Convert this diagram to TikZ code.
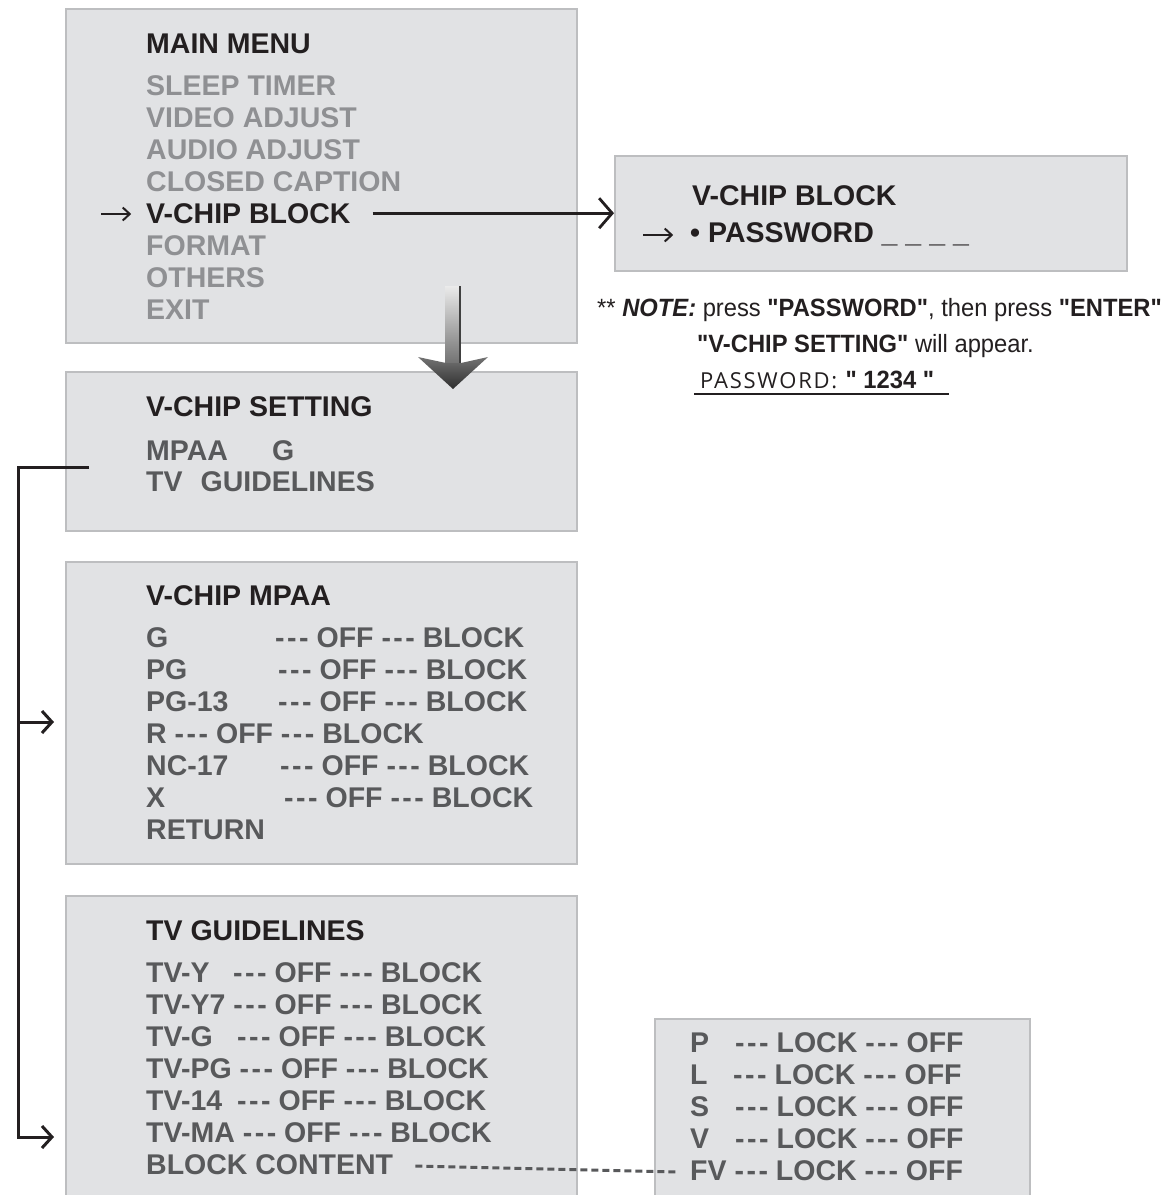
\documentclass[tikz,border=0pt]{standalone}
\usepackage{fontspec}
\setmainfont{Liberation Sans}
\newfontfamily\notefont[FakeStretch=0.95]{Liberation Sans}
\newfontfamily\pwfont[LetterSpace=8]{Open Sans}
\usetikzlibrary{arrows.meta}
\definecolor{boxfill}{HTML}{E1E2E4}
\definecolor{boxedge}{HTML}{BDBEC0}
\definecolor{lighttxt}{HTML}{8F9093}
\definecolor{midtxt}{HTML}{58595B}
\definecolor{darktxt}{HTML}{231F20}
\newcommand\dsh{-\kern2.5pt-\kern2.5pt-}
\begin{document}
\begin{tikzpicture}[x=1pt,y=-1pt,
  menubox/.style={draw=boxedge, fill=boxfill, line width=1.5pt, anchor=north west, inner sep=0pt},
  txt/.style={anchor=base west, inner sep=0pt, font=\bfseries\fontsize{28.5}{32}\selectfont},
  hdr/.style={txt, text=darktxt},
  itm/.style={txt, text=midtxt},
  lit/.style={txt, text=lighttxt},
  arrowglyph/.style={anchor=west, inner sep=0pt, minimum width=31pt, minimum height=18pt,
    path picture={\draw[darktxt, line width=2pt, shorten >=1pt, -{Straight Barb[length=7pt,width=13pt]}]
      (path picture bounding box.west) -- (path picture bounding box.east);}},
  conn/.style={draw=darktxt, line width=2.8pt},
  notetxt/.style={anchor=base west, inner sep=0pt, text=darktxt, font=\notefont\fontsize{25}{25}\selectfont},
  dashline/.style={draw=midtxt, line width=3pt, dash pattern=on 7pt off 4pt},
]
\useasboundingbox (0,0) rectangle (1164,1195);
\clip (0,0) rectangle (1164,1195);

% ---------- boxes ----------
\node[menubox, minimum width=511pt, minimum height=334pt] (mm) at (65,8) {};
\node[menubox, minimum width=512pt, minimum height=115pt] (vb) at (614,155) {};
\node[menubox, minimum width=511pt, minimum height=159pt] (vs) at (65,371) {};
\node[menubox, minimum width=511pt, minimum height=302pt] (mp) at (65,561) {};
\node[menubox, minimum width=511pt, minimum height=330pt] (tv) at (65,895) {};
\node[menubox, minimum width=375pt, minimum height=210pt] (lk) at (654,1018) {};

% ---------- main menu ----------
\node[hdr] (mmh) at (146,53) {MAIN MENU};
\node[lit] (m1) at (146,95) {SLEEP TIMER};
\node[lit] (m2) at (146,127) {VIDEO ADJUST};
\node[lit] (m3) at (146,159) {AUDIO ADJUST};
\node[lit] (m4) at (146,191) {CLOSED CAPTION};
\node[hdr] (m5) at (146,223) {V-CHIP BLOCK};
\node[lit] (m6) at (146,255) {FORMAT};
\node[lit] (m7) at (146,287) {OTHERS};
\node[lit] (m8) at (146,319) {EXIT};
\node[arrowglyph] (ma) at (101,214) {};

% ---------- v-chip block ----------
\node[hdr] (vbh) at (692,205) {V-CHIP BLOCK};
\node[arrowglyph] (va) at (643,235) {};
\node[hdr] (pw) at (690,242) {\textbullet\ PASSWORD \_ \_ \_ \_};

% ---------- v-chip setting ----------
\node[hdr] (vsh) at (146,416) {V-CHIP SETTING};
\node[itm] (s1) at (146,460) {MPAA};
\node[itm] (s1b) at (272,460) {G};
\node[itm] (s2) at (146,491) {TV\hspace{18pt}GUIDELINES};

% ---------- v-chip mpaa ----------
\node[hdr] (mph) at (146,605) {V-CHIP MPAA};
\node[itm] (p1) at (146,647) {G};
\node[itm] (p1b) at (275,647) {\dsh{} OFF \dsh{} BLOCK};
\node[itm] (p2) at (146,679) {PG};
\node[itm] (p2b) at (278,679) {\dsh{} OFF \dsh{} BLOCK};
\node[itm] (p3) at (146,711) {PG-13};
\node[itm] (p3b) at (278,711) {\dsh{} OFF \dsh{} BLOCK};
\node[itm] (p4) at (146,743) {R \dsh{} OFF \dsh{} BLOCK};
\node[itm] (p5) at (146,775) {NC-17};
\node[itm] (p5b) at (280,775) {\dsh{} OFF \dsh{} BLOCK};
\node[itm] (p6) at (146,807) {X};
\node[itm] (p6b) at (284,807) {\dsh{} OFF \dsh{} BLOCK};
\node[itm] (p7) at (146,839) {RETURN};

% ---------- tv guidelines ----------
\node[hdr] (tvh) at (146,940) {TV GUIDELINES};
\node[itm] (g1) at (146,982) {TV-Y};
\node[itm] (g1b) at (233,982) {\dsh{} OFF \dsh{} BLOCK};
\node[itm] (g2) at (146,1014) {TV-Y7 \dsh{} OFF \dsh{} BLOCK};
\node[itm] (g3) at (146,1046) {TV-G};
\node[itm] (g3b) at (237,1046) {\dsh{} OFF \dsh{} BLOCK};
\node[itm] (g4) at (146,1078) {TV-PG \dsh{} OFF \dsh{} BLOCK};
\node[itm] (g5) at (146,1110) {TV-14};
\node[itm] (g5b) at (237,1110) {\dsh{} OFF \dsh{} BLOCK};
\node[itm] (g6) at (146,1142) {TV-MA \dsh{} OFF \dsh{} BLOCK};
\node[itm] (g7) at (146,1174) {BLOCK CONTENT};

% ---------- lock box ----------
\node[itm] (l1) at (690,1052) {P};
\node[itm] (l1b) at (735,1052) {\dsh{} LOCK \dsh{} OFF};
\node[itm] (l2) at (690,1084) {L};
\node[itm] (l2b) at (733,1084) {\dsh{} LOCK \dsh{} OFF};
\node[itm] (l3) at (690,1116) {S};
\node[itm] (l3b) at (735,1116) {\dsh{} LOCK \dsh{} OFF};
\node[itm] (l4) at (690,1148) {V};
\node[itm] (l4b) at (735,1148) {\dsh{} LOCK \dsh{} OFF};
\node[itm] (l5) at (690,1180) {FV \dsh{} LOCK \dsh{} OFF};

% ---------- note ----------
\node[notetxt] (n1) at (597,316) {** \textbf{\textit{NOTE:}} press \textbf{"PASSWORD"}, then press \textbf{"ENTER"}};
\node[notetxt] (n2) at (697,352) {\textbf{"V-CHIP SETTING"} will appear.};
\node[notetxt] (n3) at (700,388) {{\pwfont\fontsize{22}{22}\selectfont PASSWORD:}\ \textbf{"~1234~"}};
\draw[darktxt, line width=1.2pt] (694,394) -- (949,394);

% ---------- big gradient arrow ----------
\shade[top color=black!8, bottom color=black!55] (445,286) rectangle (459,363);
\draw[black!75, line width=2pt] (460,286) -- (460,363);
\shade[top color=black!55, bottom color=black!82] (418,357) -- (446,363) -- (461,363) -- (488,357) -- (453,389) -- cycle;

% ---------- connectors ----------
\draw[conn, -{Straight Barb[length=13pt,width=30pt]}] ([xshift=22pt]m5.east) -- (m5.east -| vb.west);

\coordinate (s0) at (89,467);
\coordinate (cl) at (18,467);
\coordinate (t1) at (54,722);
\coordinate (t2) at (54,1137);
\draw[conn, line width=3pt, -{Straight Barb[length=10pt,width=22pt]}] (s0) -- (cl) |- (t2);
\draw[conn, line width=3pt, -{Straight Barb[length=10pt,width=22pt]}] (cl |- t1) -- (t1);

\draw[dashline] ([xshift=22pt,yshift=8pt]g7.base east) -- ([xshift=-14pt,yshift=8pt]l5.base west);
\end{tikzpicture}
\end{document}
